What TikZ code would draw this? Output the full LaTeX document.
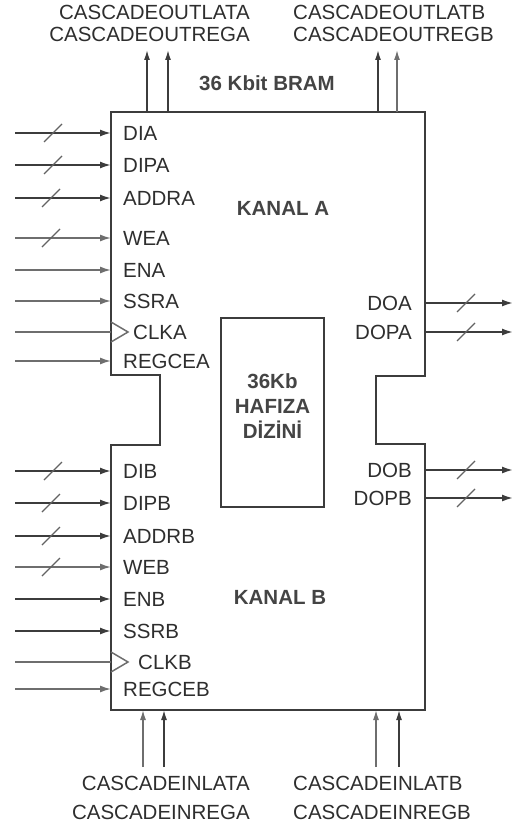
\documentclass[tikz,border=0pt]{standalone}
\usepackage{fontspec}
\setmainfont{Liberation Sans}
\usetikzlibrary{arrows.meta,positioning,calc}
\definecolor{wire}{HTML}{3C3C3C}
\definecolor{wirelt}{HTML}{6E6E6E}
\definecolor{pintext}{HTML}{2E2E2E}
\definecolor{blktext}{HTML}{444444}

\begin{document}
\begin{tikzpicture}[
  x=1pt, y=-1pt,
  font=\fontsize{20.5}{22}\selectfont,
  >={Latex[length=11pt,width=7pt]},
  port/.style={inner sep=0pt, text=pintext},
  blklbl/.style={inner sep=0pt, text=blktext, align=center,
                 font=\fontsize{20.5}{25}\selectfont\bfseries},
  pin/.style={->, draw=wire, line width=1.7pt},
  pinlt/.style={->, draw=wirelt, line width=1.5pt},
  cas/.style={->, draw=wire, line width=1.4pt, >={Latex[length=10pt,width=6pt]}},
  caslt/.style={->, draw=wirelt, line width=1.4pt, >={Latex[length=10pt,width=6pt]}},
  clkpin/.style={draw=wirelt, line width=1.5pt},
  bus/.style={draw=wire!80, line width=1.3pt},
  blk/.style={draw=wire, line width=2.4pt, line join=miter},
  membox/.style={rectangle, draw=wire, line width=2pt, inner sep=0pt,
                 minimum width=103pt, minimum height=189pt}
]
\useasboundingbox (0,0) rectangle (515,829);

% ---------- BRAM outline ----------
\draw[blk] (111,112) -- (425,112) -- (425,376) -- (376,376) -- (376,444)
  -- (425,444) -- (425,710) -- (111,710) -- (111,445) -- (160,445)
  -- (160,375) -- (111,375) -- cycle;
\coordinate (boxw) at (111,0);
\coordinate (boxe) at (425,0);
\coordinate (boxn) at (0,112);
\coordinate (boxs) at (0,710);

\node[blklbl] (bram) at (267,83) {36 Kbit BRAM};
\node[blklbl] (kanala) at (283,208) {KANAL A};
\node[blklbl] (kanalb) at (280,597) {KANAL B};

% ---------- memory array ----------
\node[membox] (mem) at (272.5,412.5) {};
\node[blklbl] (memlbl) at ($(mem.center)+(0,-6)$) {36Kb\\HAFIZA\\DİZİNİ};

% ---------- port A inputs ----------
\node[port, anchor=west] (dia) at (123,133) {DIA};
\coordinate (dia-in) at (15,133);
\draw[pin] (dia-in) -- (dia-in -| boxw);
\draw[bus] (dia-in) ++(29,9) -- ++(18,-18);

\node[port, anchor=west] (dipa) at (123,165) {DIPA};
\coordinate (dipa-in) at (15,165);
\draw[pin] (dipa-in) -- (dipa-in -| boxw);
\draw[bus] (dipa-in) ++(29,9) -- ++(18,-18);

\node[port, anchor=west] (addra) at (123,198) {ADDRA};
\coordinate (addra-in) at (15,198);
\draw[pin] (addra-in) -- (addra-in -| boxw);
\draw[bus] (addra-in) ++(27,9) -- ++(18,-18);

\node[port, anchor=west] (wea) at (123,238) {WEA};
\coordinate (wea-in) at (15,238);
\draw[pinlt] (wea-in) -- (wea-in -| boxw);
\draw[bus] (wea-in) ++(27,9) -- ++(18,-18);

\node[port, anchor=west] (ena) at (123,270) {ENA};
\coordinate (ena-in) at (15,270);
\draw[pinlt] (ena-in) -- (ena-in -| boxw);

\node[port, anchor=west] (ssra) at (123,301) {SSRA};
\coordinate (ssra-in) at (15,301);
\draw[pinlt] (ssra-in) -- (ssra-in -| boxw);

\node[port, anchor=west] (clka) at (133,332) {CLKA};
\coordinate (clka-in) at (15,332);
\draw[clkpin] (clka-in) -- (clka-in -| boxw);
\draw[clkpin] (clka-in -| boxw) ++(0,-10) -- ++(17,10) -- ++(-17,10);

\node[port, anchor=west] (regcea) at (123,361) {REGCEA};
\coordinate (regcea-in) at (15,361);
\draw[pinlt] (regcea-in) -- (regcea-in -| boxw);

% ---------- port B inputs ----------
\node[port, anchor=west] (dib) at (123,471) {DIB};
\coordinate (dib-in) at (15,471);
\draw[pin] (dib-in) -- (dib-in -| boxw);
\draw[bus] (dib-in) ++(29,9) -- ++(18,-18);

\node[port, anchor=west] (dipb) at (123,503) {DIPB};
\coordinate (dipb-in) at (15,503);
\draw[pin] (dipb-in) -- (dipb-in -| boxw);
\draw[bus] (dipb-in) ++(27,9) -- ++(18,-18);

\node[port, anchor=west] (addrb) at (123,536) {ADDRB};
\coordinate (addrb-in) at (15,536);
\draw[pin] (addrb-in) -- (addrb-in -| boxw);
\draw[bus] (addrb-in) ++(27,9) -- ++(18,-18);

\node[port, anchor=west] (web) at (123,567) {WEB};
\coordinate (web-in) at (15,567);
\draw[pinlt] (web-in) -- (web-in -| boxw);
\draw[bus] (web-in) ++(27,9) -- ++(18,-18);

\node[port, anchor=west] (enb) at (123,599) {ENB};
\coordinate (enb-in) at (15,599);
\draw[pin] (enb-in) -- (enb-in -| boxw);

\node[port, anchor=west] (ssrb) at (123,631) {SSRB};
\coordinate (ssrb-in) at (15,631);
\draw[pin] (ssrb-in) -- (ssrb-in -| boxw);

\node[port, anchor=west] (clkb) at (138,662) {CLKB};
\coordinate (clkb-in) at (15,662);
\draw[clkpin] (clkb-in) -- (clkb-in -| boxw);
\draw[clkpin] (clkb-in -| boxw) ++(0,-10) -- ++(17,10) -- ++(-17,10);

\node[port, anchor=west] (regceb) at (123,689) {REGCEB};
\coordinate (regceb-in) at (15,689);
\draw[pinlt] (regceb-in) -- (regceb-in -| boxw);

% ---------- data outputs ----------
\node[port, anchor=east] (doa) at (412,303) {DOA};
\coordinate (doa-out) at (513,303);
\draw[pin] (doa-out -| boxe) -- (doa-out);
\draw[bus] (doa-out -| boxe) ++(32,9) -- ++(18,-18);

\node[port, anchor=east] (dopa) at (412,332) {DOPA};
\coordinate (dopa-out) at (513,332);
\draw[pin] (dopa-out -| boxe) -- (dopa-out);
\draw[bus] (dopa-out -| boxe) ++(32,9) -- ++(18,-18);

\node[port, anchor=east] (dob) at (412,470) {DOB};
\coordinate (dob-out) at (513,470);
\draw[pin] (dob-out -| boxe) -- (dob-out);
\draw[bus] (dob-out -| boxe) ++(32,9) -- ++(18,-18);

\node[port, anchor=east] (dopb) at (412,498) {DOPB};
\coordinate (dopb-out) at (513,498);
\draw[pin] (dopb-out -| boxe) -- (dopb-out);
\draw[bus] (dopb-out -| boxe) ++(32,9) -- ++(18,-18);

% ---------- cascade outputs ----------
\node[port, anchor=east] (outlata) at (250,12) {CASCADEOUTLATA};
\node[port, anchor=east] (outrega) at (250,34) {CASCADEOUTREGA};
\node[port, anchor=west] (outlatb) at (293,12) {CASCADEOUTLATB};
\node[port, anchor=west] (outregb) at (293,34) {CASCADEOUTREGB};
\coordinate (coa1) at (147,50);
\coordinate (coa2) at (168,50);
\coordinate (cob1) at (378,50);
\coordinate (cob2) at (397,50);
\draw[cas] (coa1 |- boxn) -- (coa1);
\draw[cas] (coa2 |- boxn) -- (coa2);
\draw[cas] (cob1 |- boxn) -- (cob1);
\draw[caslt] (cob2 |- boxn) -- (cob2);

% ---------- cascade inputs ----------
\node[port, anchor=east] (inlata) at (250,783) {CASCADEINLATA};
\node[port, anchor=east] (inrega) at (250,812) {CASCADEINREGA};
\node[port, anchor=west] (inlatb) at (293,783) {CASCADEINLATB};
\node[port, anchor=west] (inregb) at (293,812) {CASCADEINREGB};
\coordinate (cia1) at (143,767);
\coordinate (cia2) at (164,767);
\coordinate (cib1) at (376,767);
\coordinate (cib2) at (399,767);
\draw[caslt] (cia1) -- (cia1 |- boxs);
\draw[cas] (cia2) -- (cia2 |- boxs);
\draw[caslt] (cib1) -- (cib1 |- boxs);
\draw[cas] (cib2) -- (cib2 |- boxs);

\end{tikzpicture}
\end{document}
